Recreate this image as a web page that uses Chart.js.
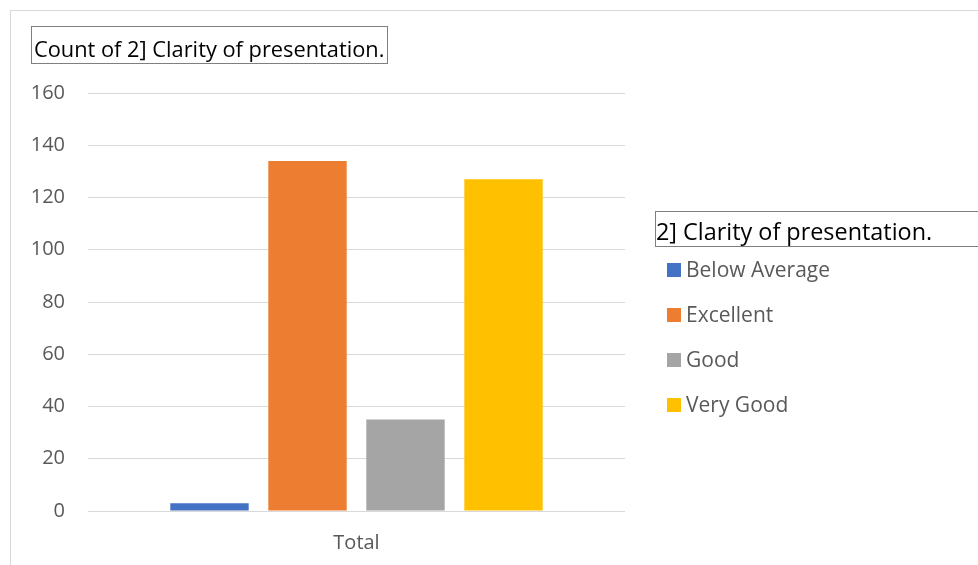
<!DOCTYPE html>
<html>
<head>
<meta charset="utf-8">
<script src="https://cdn.jsdelivr.net/npm/chart.js@4/dist/chart.umd.min.js"></script>
<style>
html,body{margin:0;padding:0;background:#fff;}
#wrap{position:relative;width:978px;height:565px;}
</style>
</head>
<body>
<div id="wrap"><canvas id="c" width="978" height="565"></canvas></div>
<script>
const categories = ['Total'];
const seriesNames = ['Below Average', 'Excellent', 'Good', 'Very Good'];
const seriesValues = [3, 134, 35, 127];
const seriesColors = ['#4472C4', '#ED7D31', '#A5A5A5', '#FFC000'];
const yTicks = [0, 20, 40, 60, 80, 100, 120, 140, 160];
const chartTitle = 'Count of 2] Clarity of presentation.';
const legendTitle = '2] Clarity of presentation.';

const FONT = '"Open Sans", "Liberation Sans", sans-serif';

function fitFont(ctx, text, target, base) {
  ctx.font = base + 'px ' + FONT;
  const w = ctx.measureText(text).width;
  return Math.round(base * target / w * 10) / 10;
}

const decor = {
  id: 'decor',
  beforeDraw(chart) {
    const ctx = chart.ctx;
    ctx.save();
    ctx.fillStyle = '#fff';
    ctx.fillRect(0, 0, chart.width, chart.height);
    ctx.strokeStyle = '#d9d9d9';
    ctx.lineWidth = 1;
    ctx.strokeRect(10.5, 10.5, chart.width + 20, chart.height + 20);
    ctx.restore();
  },
  afterDraw(chart) {
    const ctx = chart.ctx;
    ctx.save();
    ctx.textBaseline = 'alphabetic';
    ctx.textAlign = 'left';
    // Title box
    const ts = fitFont(ctx, chartTitle, 350, 20);
    ctx.font = ts + 'px ' + FONT;
    ctx.fillStyle = '#000';
    ctx.fillText(chartTitle, 34, 57);
    ctx.strokeStyle = '#7f7f7f';
    ctx.lineWidth = 1;
    ctx.strokeRect(31.5, 26.5, 356, 37);
    // Legend title box
    const ls = fitFont(ctx, legendTitle, 276, 20);
    ctx.font = ls + 'px ' + FONT;
    ctx.fillText(legendTitle, 656, 240);
    ctx.strokeRect(655.5, 211.5, 330, 35);
    // Legend items
    ctx.font = '21px ' + FONT;
    ctx.textBaseline = 'middle';
    chart.data.datasets.forEach((ds, i) => {
      const cy = 270 + i * 45;
      ctx.fillStyle = ds.backgroundColor;
      ctx.fillRect(667, cy - 7, 14, 14);
      ctx.fillStyle = '#595959';
      ctx.fillText(ds.label, 686, cy + 1);
    });
    ctx.restore();
  }
};

new Chart(document.getElementById('c'), {
  type: 'bar',
  data: {
    labels: categories,
    datasets: seriesNames.map((n, i) => ({
      label: n,
      data: [seriesValues[i]],
      backgroundColor: seriesColors[i],
      categoryPercentage: 0.73,
      barPercentage: 0.8
    }))
  },
  options: {
    responsive: false,
    animation: false,
    layout: { padding: { left: 0, top: 93, right: 353, bottom: 0 } },
    plugins: {
      legend: { display: false },
      title: { display: false },
      tooltip: { enabled: false }
    },
    scales: {
      x: {
        grid: { display: false },
        border: { display: false },
        ticks: { color: '#595959', font: { family: FONT, size: 20 }, padding: 12 },
        afterFit(s) { s.height = 54; }
      },
      y: {
        min: yTicks[0],
        max: yTicks[yTicks.length - 1],
        afterBuildTicks(s) { s.ticks = yTicks.map(v => ({ value: v })); },
        grid: { color: '#d9d9d9', lineWidth: 1, drawTicks: false },
        border: { display: false },
        ticks: { color: '#595959', font: { family: FONT, size: 20 }, padding: 23 },
        afterFit(s) { s.width = 88; }
      }
    }
  },
  plugins: [decor]
});
</script>
</body>
</html>
